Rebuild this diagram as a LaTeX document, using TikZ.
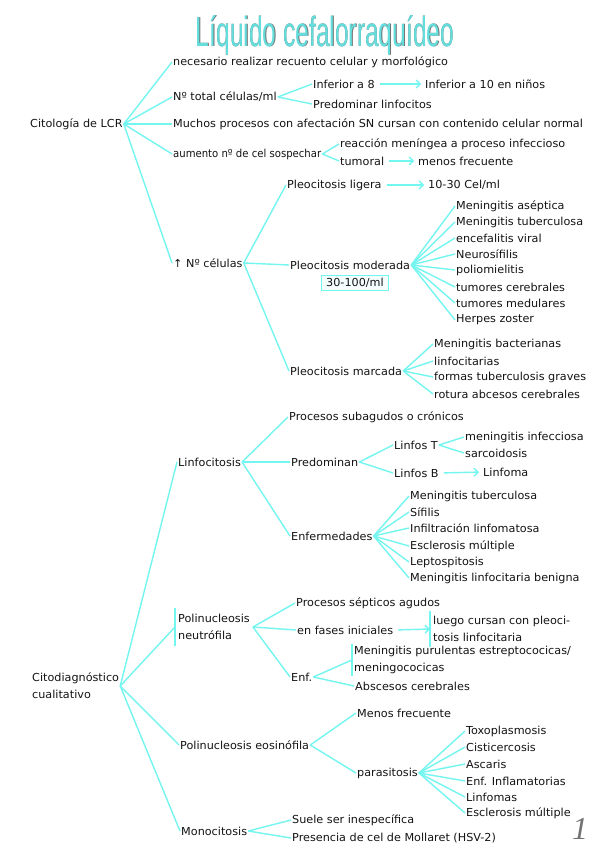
\documentclass[tikz,border=0pt]{standalone}
\usepackage{fontspec}
\usepackage{graphicx}
\setmainfont{DejaVu Sans}[FakeStretch=1.02]
\newfontfamily\titlefont{Liberation Sans}[FakeStretch=0.585]
\newfontfamily\numfont{Liberation Serif}
\usetikzlibrary{arrows.meta}
\definecolor{aq}{RGB}{115,245,240}
\definecolor{titc}{RGB}{100,222,220}
\definecolor{ink}{RGB}{20,20,20}
\begin{document}
\begin{tikzpicture}[x=1pt,y=-1pt,
  t/.style={anchor=west,inner sep=1pt,font=\fontsize{11}{17}\selectfont,text=ink,align=left},
  br/.style={draw=aq,line width=1.4pt},
  ar/.style={br,-{Straight Barb[length=4pt,width=8pt]},shorten <=4pt,shorten >=3pt},
  bar/.style={draw=aq,line width=1.5pt},
  titf/.style={font=\titlefont\fontsize{42}{46}\selectfont}
]
\useasboundingbox (0,0) rectangle (599,848);
\fill[white] (0,0) rectangle (599,848);

% title
\node[titf,text=black!55] (titsh) at (325.5,35.5) {Líquido cefalorraquídeo};
\node[titf,text=titc] (title) at (325,35) {Líquido cefalorraquídeo};

% ---------- Citología de LCR ----------
\node[t] (root) at (29,124) {Citología de LCR};
\node[t] (n1) at (172,62) {necesario realizar recuento celular y morfológico};
\node[t] (n2) at (172,97) {Nº total células/ml};
\node[t] (n3) at (172,124) {Muchos procesos con afectación SN cursan con contenido celular normal};
\node[t] (n4) at (172,154) {\scalebox{0.9}[1]{aumento nº de cel sospechar}};
\node[t] (n5) at (172,263) {↑ Nº células};
\foreach \c in {n1,n2,n3,n4,n5} \draw[br] (root.east) -- (\c.west);

\node[t] (n21) at (312,84) {Inferior a 8};
\node[t] (n21a) at (424,84) {Inferior a 10 en niños};
\node[t] (n22) at (312,104) {Predominar linfocitos};
\draw[br] (n2.east) -- (n21.west);
\draw[br] (n2.east) -- (n22.west);
\draw[ar] (n21.east) -- (n21a.west);

\node[t] (n41) at (339,144) {reacción meníngea a proceso infeccioso};
\node[t] (n42) at (339,161) {tumoral};
\node[t] (n42a) at (417,161) {menos frecuente};
\draw[br] (n4.east) -- (n41.west);
\draw[br] (n4.east) -- (n42.west);
\draw[ar] (n42.east) -- (n42a.west);

% Nº células
\node[t] (p1) at (286,185) {Pleocitosis ligera};
\node[t] (p1a) at (427,185) {10-30 Cel/ml};
\node[t] (p2) at (289,265) {Pleocitosis moderada};
\node[t,anchor=center,draw=aq,line width=1.2pt,fill=aq!8,inner xsep=5pt,inner ysep=2.5pt] (pbox) at (355,283) {30-100/ml};
\node[t] (p3) at (289,371) {Pleocitosis marcada};
\foreach \c in {p1,p2,p3} \draw[br] (n5.east) -- (\c.west);
\draw[ar] (p1.east) -- (p1a.west);

\node[t] (m1) at (455,206) {Meningitis aséptica};
\node[t] (m2) at (455,222) {Meningitis tuberculosa};
\node[t] (m3) at (455,238) {encefalitis viral};
\node[t] (m4) at (455,254) {Neurosífilis};
\node[t] (m5) at (455,270) {poliomielitis};
\node[t] (m6) at (455,287) {tumores cerebrales};
\node[t] (m7) at (455,303) {tumores medulares};
\node[t] (m8) at (455,320) {Herpes zoster};
\foreach \c in {m1,m2,m3,m4,m5,m6,m7,m8} \draw[br] (p2.east) -- (\c.west);

\node[t] (k1) at (433,344) {Meningitis bacterianas};
\node[t] (k2) at (433,361) {linfocitarias};
\node[t] (k3) at (433,377) {formas tuberculosis graves};
\node[t] (k4) at (433,394) {rotura abcesos cerebrales};
\foreach \c in {k1,k2,k3,k4} \draw[br] (p3.east) -- (\c.west);

% ---------- Citodiagnóstico cualitativo ----------
\node[t] (cd) at (31,686) {Citodiagnóstico\\cualitativo};
\node[t] (L) at (177,462) {Linfocitosis};
\node[t,inner xsep=3pt,inner ysep=6pt] (PN) at (175,627) {Polinucleosis\\neutrófila};
\node[t] (PE) at (179,745) {Polinucleosis eosinófila};
\node[t] (M) at (180,831) {Monocitosis};
\draw[bar] (PN.north west) -- (PN.south west);
\foreach \c in {L,PN,PE,M} \draw[br] (cd.east) -- (\c.west);

% Linfocitosis
\node[t] (L1) at (288,417) {Procesos subagudos o crónicos};
\node[t] (L2) at (290,462) {Predominan};
\node[t] (L3) at (290,536) {Enfermedades};
\foreach \c in {L1,L2,L3} \draw[br] (L.east) -- (\c.west);

\node[t] (LT) at (393,445) {Linfos T};
\node[t] (LB) at (393,473) {Linfos B};
\draw[br] (L2.east) -- (LT.west);
\draw[br] (L2.east) -- (LB.west);
\node[t] (T1) at (464,437) {meningitis infecciosa};
\node[t] (T2) at (464,453) {sarcoidosis};
\draw[br] (LT.east) -- (T1.west);
\draw[br] (LT.east) -- (T2.west);
\node[t] (B1) at (482,472) {Linfoma};
\draw[ar] (LB.east) -- (B1.west);

\node[t] (e1) at (409,496) {Meningitis tuberculosa};
\node[t] (e2) at (409,512) {Sífilis};
\node[t] (e3) at (409,528) {Infiltración linfomatosa};
\node[t] (e4) at (409,546) {Esclerosis múltiple};
\node[t] (e5) at (409,562) {Leptospitosis};
\node[t] (e6) at (409,578) {Meningitis linfocitaria benigna};
\foreach \c in {e1,e2,e3,e4,e5,e6} \draw[br] (L3.east) -- (\c.west);

% Polinucleosis neutrófila
\node[t] (N1) at (295,603) {Procesos sépticos agudos};
\node[t] (N2) at (296,630) {en fases iniciales};
\node[t,inner xsep=3pt,inner ysep=5pt] (N2a) at (430,629) {luego cursan con pleoci-\\tosis linfocitaria};
\draw[bar] (N2a.north west) -- (N2a.south west);
\node[t] (N3) at (290,677) {Enf.};
\foreach \c in {N1,N2,N3} \draw[br] (PN.east) -- (\c.west);
\draw[ar,shorten >=0pt] (N2.east) -- (N2a.west);

\node[t,inner xsep=2pt,inner ysep=2pt] (N31) at (352,660) {Meningitis purulentas estreptococicas/\\meningococicas};
\draw[bar] (N31.north west) -- (N31.south west);
\node[t] (N32) at (354,686) {Abscesos cerebrales};
\draw[br] (N3.east) -- (N31.west);
\draw[br] (N3.east) -- (N32.west);

% Polinucleosis eosinófila
\node[t] (E1) at (356,713) {Menos frecuente};
\node[t] (E2) at (356,773) {parasitosis};
\draw[br] (PE.east) -- (E1.west);
\draw[br] (PE.east) -- (E2.west);
\node[t] (q1) at (465,731) {Toxoplasmosis};
\node[t] (q2) at (465,747) {Cisticercosis};
\node[t] (q3) at (465,764) {Ascaris};
\node[t] (q4) at (465,781) {Enf. Inflamatorias};
\node[t] (q5) at (465,797) {Linfomas};
\node[t] (q6) at (465,813) {Esclerosis múltiple};
\foreach \c in {q1,q2,q3,q4,q5,q6} \draw[br] (E2.east) -- (\c.west);

% Monocitosis
\node[t] (M1) at (291,820) {Suele ser inespecífica};
\node[t] (M2) at (291,838) {Presencia de cel de Mollaret (HSV-2)};
\draw[br] (M.east) -- (M1.west);
\draw[br] (M.east) -- (M2.west);

% page number
\node[font=\numfont\itshape\fontsize{32}{36}\selectfont,text=black!55,inner sep=0pt] (pg) at (580,829) {1};
\end{tikzpicture}
\end{document}
